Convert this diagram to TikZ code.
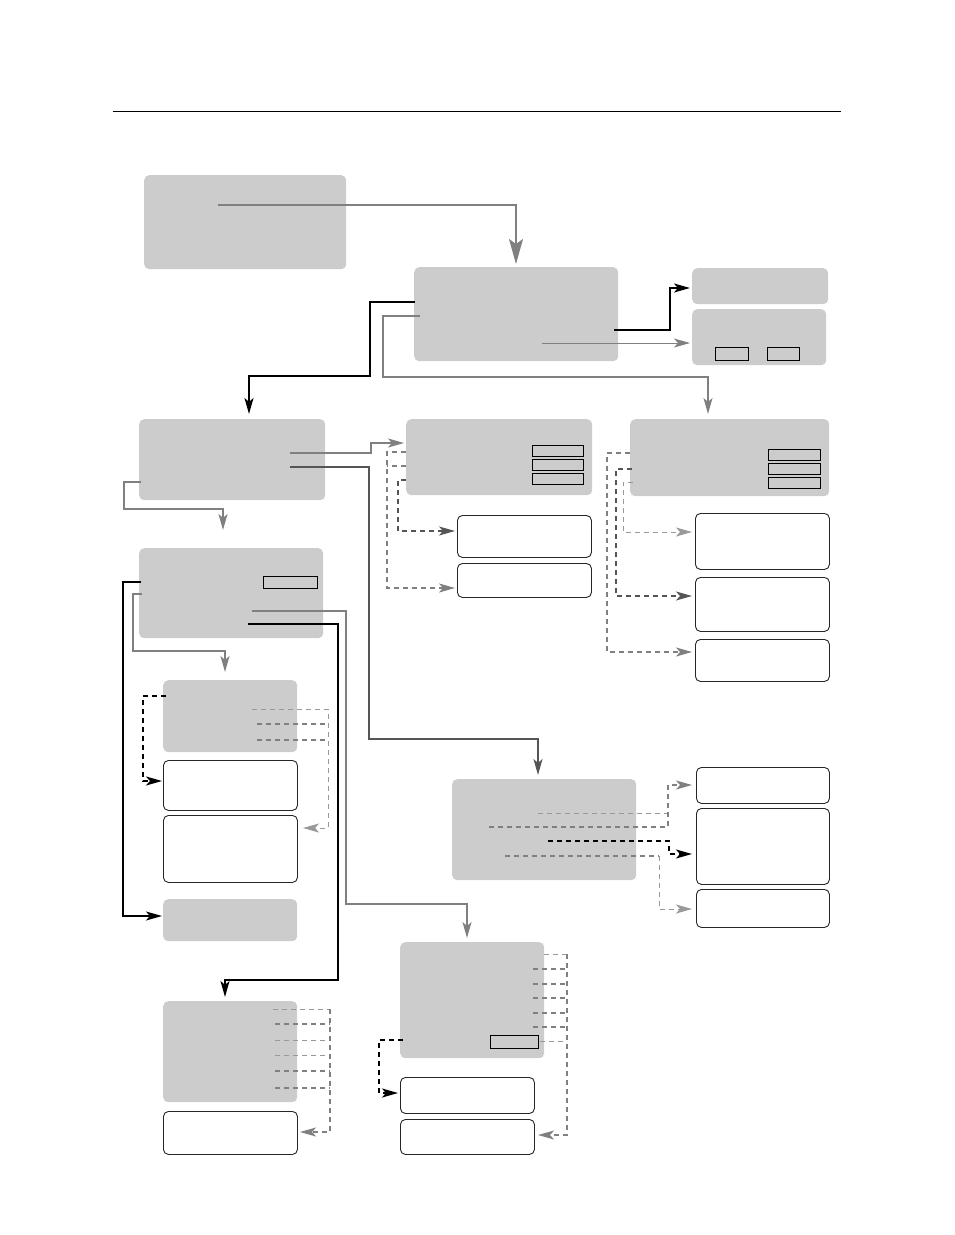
\documentclass[tikz,border=0pt]{standalone}
\usetikzlibrary{arrows.meta}
\definecolor{boxgray}{HTML}{CCCCCC}
\definecolor{lgray}{HTML}{808080}
\definecolor{dgray}{HTML}{555555}
\definecolor{vlgray}{HTML}{999999}
\begin{document}
\begin{tikzpicture}[x=1pt,y=-1pt,
  gbox/.style={fill=boxgray,draw=none,rounded corners=5pt,anchor=north west,inner sep=0pt},
  wbox/.style={fill=white,draw=black!85,line width=0.9pt,rounded corners=5pt,anchor=north west,inner sep=0pt},
  smallrect/.style={draw=black,line width=1pt,anchor=north west,inner sep=0pt,fill=boxgray},
  tip/.style={-{Stealth[length=16pt,width=9pt,inset=4pt]}},
  bigtip/.style={-{Stealth[length=25pt,width=14pt,inset=5pt]}},
  gline/.style={draw=lgray,line width=1.6pt},
  gthin/.style={draw=lgray,line width=1pt},
  dline/.style={draw=dgray,line width=1.3pt},
  bline/.style={draw=black,line width=2pt},
  gdash/.style={draw=lgray,line width=1.6pt,dash pattern=on 5pt off 4pt},
  ddash/.style={draw=dgray,line width=1.4pt,dash pattern=on 5pt off 4pt},
  ldash/.style={draw=vlgray,line width=1pt,dash pattern=on 5pt off 4pt},
  bdash/.style={draw=black,line width=2pt,dash pattern=on 5pt off 4pt},
]
\useasboundingbox (0,0) rectangle (954,1235);
\draw[line width=1pt] (113,111) -- (841,111);

% boxes
\node[gbox,minimum width=202pt,minimum height=94pt] (A) at (144,175) {};
\node[gbox,minimum width=204pt,minimum height=94pt] (B) at (414,267) {};
\node[gbox,minimum width=136pt,minimum height=36pt] (C) at (692,268) {};
\node[gbox,minimum width=134pt,minimum height=56pt] (D) at (692,309) {};
\node[smallrect,minimum width=33pt,minimum height=13pt] (D1) at (715,347) {};
\node[smallrect,minimum width=32pt,minimum height=13pt] (D2) at (767,347) {};
\node[gbox,minimum width=186pt,minimum height=81pt] (E) at (139,419) {};
\node[gbox,minimum width=186pt,minimum height=76pt] (F) at (406,419) {};
\node[smallrect,minimum width=51pt,minimum height=11pt] (F1) at (532,445) {};
\node[smallrect,minimum width=51pt,minimum height=11pt] (F2) at (532,459) {};
\node[smallrect,minimum width=51pt,minimum height=11pt] (F3) at (532,473) {};
\node[wbox,minimum width=134pt,minimum height=42pt] (G) at (457,515) {};
\node[wbox,minimum width=134pt,minimum height=34pt] (H) at (457,563) {};
\node[gbox,minimum width=199pt,minimum height=77pt] (I) at (630,419) {};
\node[smallrect,minimum width=52pt,minimum height=11pt] (I1) at (768,449) {};
\node[smallrect,minimum width=52pt,minimum height=11pt] (I2) at (768,463) {};
\node[smallrect,minimum width=52pt,minimum height=11pt] (I3) at (768,477) {};
\node[wbox,minimum width=134pt,minimum height=56pt] (J) at (695,513) {};
\node[wbox,minimum width=134pt,minimum height=54pt] (K) at (695,577) {};
\node[wbox,minimum width=134pt,minimum height=42pt] (L) at (695,639) {};
\node[gbox,minimum width=184pt,minimum height=90pt] (M) at (139,548) {};
\node[smallrect,minimum width=54pt,minimum height=12pt] (M1) at (263,576) {};
\node[gbox,minimum width=134pt,minimum height=72pt] (N) at (163,680) {};
\node[wbox,minimum width=134pt,minimum height=50pt] (O) at (163,760) {};
\node[wbox,minimum width=134pt,minimum height=67pt] (P) at (163,815) {};
\node[gbox,minimum width=134pt,minimum height=42pt] (Q) at (163,899) {};
\node[gbox,minimum width=184pt,minimum height=101pt] (R) at (452,779) {};
\node[wbox,minimum width=133pt,minimum height=36pt] (S) at (696,767) {};
\node[wbox,minimum width=133pt,minimum height=76pt] (T) at (696,808) {};
\node[wbox,minimum width=133pt,minimum height=38pt] (U) at (696,889) {};
\node[gbox,minimum width=134pt,minimum height=101pt] (V) at (163,1001) {};
\node[wbox,minimum width=134pt,minimum height=43pt] (W) at (163,1111) {};
\node[gbox,minimum width=144pt,minimum height=116pt] (X) at (400,942) {};
\node[smallrect,minimum width=48pt,minimum height=13pt] (X1) at (490,1035) {};
\node[wbox,minimum width=134pt,minimum height=36pt] (Y) at (400,1077) {};
\node[wbox,minimum width=134pt,minimum height=35pt] (Z) at (400,1119) {};

% connectors
\draw[gline,bigtip] (218,205) -- (516,205) -- (516,264);
\draw[bline,tip] (614,330) -- (670,330) -- (670,288) -- (690,288);
\draw[gthin,tip] (542,343) -- (690,343);
\draw[bline,tip] (415,302) -- (370,302) -- (370,376) -- (249,376) -- (249,414);
\draw[gline,tip] (420,316) -- (383,316) -- (383,377) -- (708,377) -- (708,414);
\draw[gline,tip] (290,453) -- (371,453) -- (371,443) -- (404,443);
\draw[dline,tip] (290,467) -- (369,467) -- (369,739) -- (538,739) -- (538,775);
\draw[gline,tip] (141,482) -- (124,482) -- (124,509) -- (223,509) -- (223,530);

\draw[gdash] (406,466) -- (387,466);
\draw[gdash,tip] (406,452) -- (387,452) -- (387,588) -- (455,588);
\draw[ddash,tip] (406,480) -- (398,480) -- (398,531) -- (455,531);

\draw[gdash,tip] (630,453) -- (607,453) -- (607,652) -- (692,652);
\draw[ddash,tip] (632,469) -- (616,469) -- (616,596) -- (692,596);
\draw[ldash,tip] (633,482) -- (623,482) -- (623,532) -- (692,532);

\draw[draw=black,line width=1.6pt,tip] (141,582) -- (123,582) -- (123,916) -- (162,916);
\draw[gline,tip] (142,594) -- (133,594) -- (133,651) -- (225,651) -- (225,672);
\draw[gthin,line width=1.3pt,tip] (252,611) -- (346,611) -- (346,904) -- (467,904) -- (467,938);
\draw[bline,tip] (248,624) -- (338,624) -- (338,980) -- (225,980) -- (225,997);

\draw[bdash,tip] (166,696) -- (143,696) -- (143,781) -- (162,781);
\draw[gdash] (257,724) -- (328,724);
\draw[gdash] (257,740) -- (328,740);
\draw[ldash,tip] (252,709) -- (328,709) -- (328,828) -- (303,828);

\draw[ldash] (538,813) -- (668,813);
\draw[gdash,tip] (489,827) -- (668,827) -- (668,785) -- (692,785);
\draw[bdash,tip] (548,841) -- (669,841) -- (669,854) -- (692,854);
\draw[gdash] (505,856) -- (659,856);
\draw[ldash,tip] (659,856) -- (659,909) -- (692,909);

% V dashed lines
\draw[ldash] (273,1009) -- (330,1009);
\draw[gdash] (275,1024) -- (330,1024);
\draw[ldash] (275,1040) -- (330,1040);
\draw[ldash] (275,1055) -- (330,1055);
\draw[gdash] (275,1071) -- (330,1071);
\draw[gdash] (275,1088) -- (330,1088);
\draw[gdash,tip] (330,1009) -- (330,1132) -- (300,1132);

% X dashed lines
\draw[ldash] (544,954) -- (567,954);
\draw[gdash] (533,969) -- (567,969);
\draw[gdash] (533,984) -- (567,984);
\draw[gdash] (533,998) -- (567,998);
\draw[gdash] (533,1013) -- (567,1013);
\draw[gdash] (533,1027) -- (567,1027);
\draw[ldash] (540,1041) -- (567,1041);
\draw[gdash,tip] (567,954) -- (567,1135) -- (538,1135);
\draw[bdash,tip] (403,1040) -- (379,1040) -- (379,1093) -- (398,1093);
\end{tikzpicture}
\end{document}
